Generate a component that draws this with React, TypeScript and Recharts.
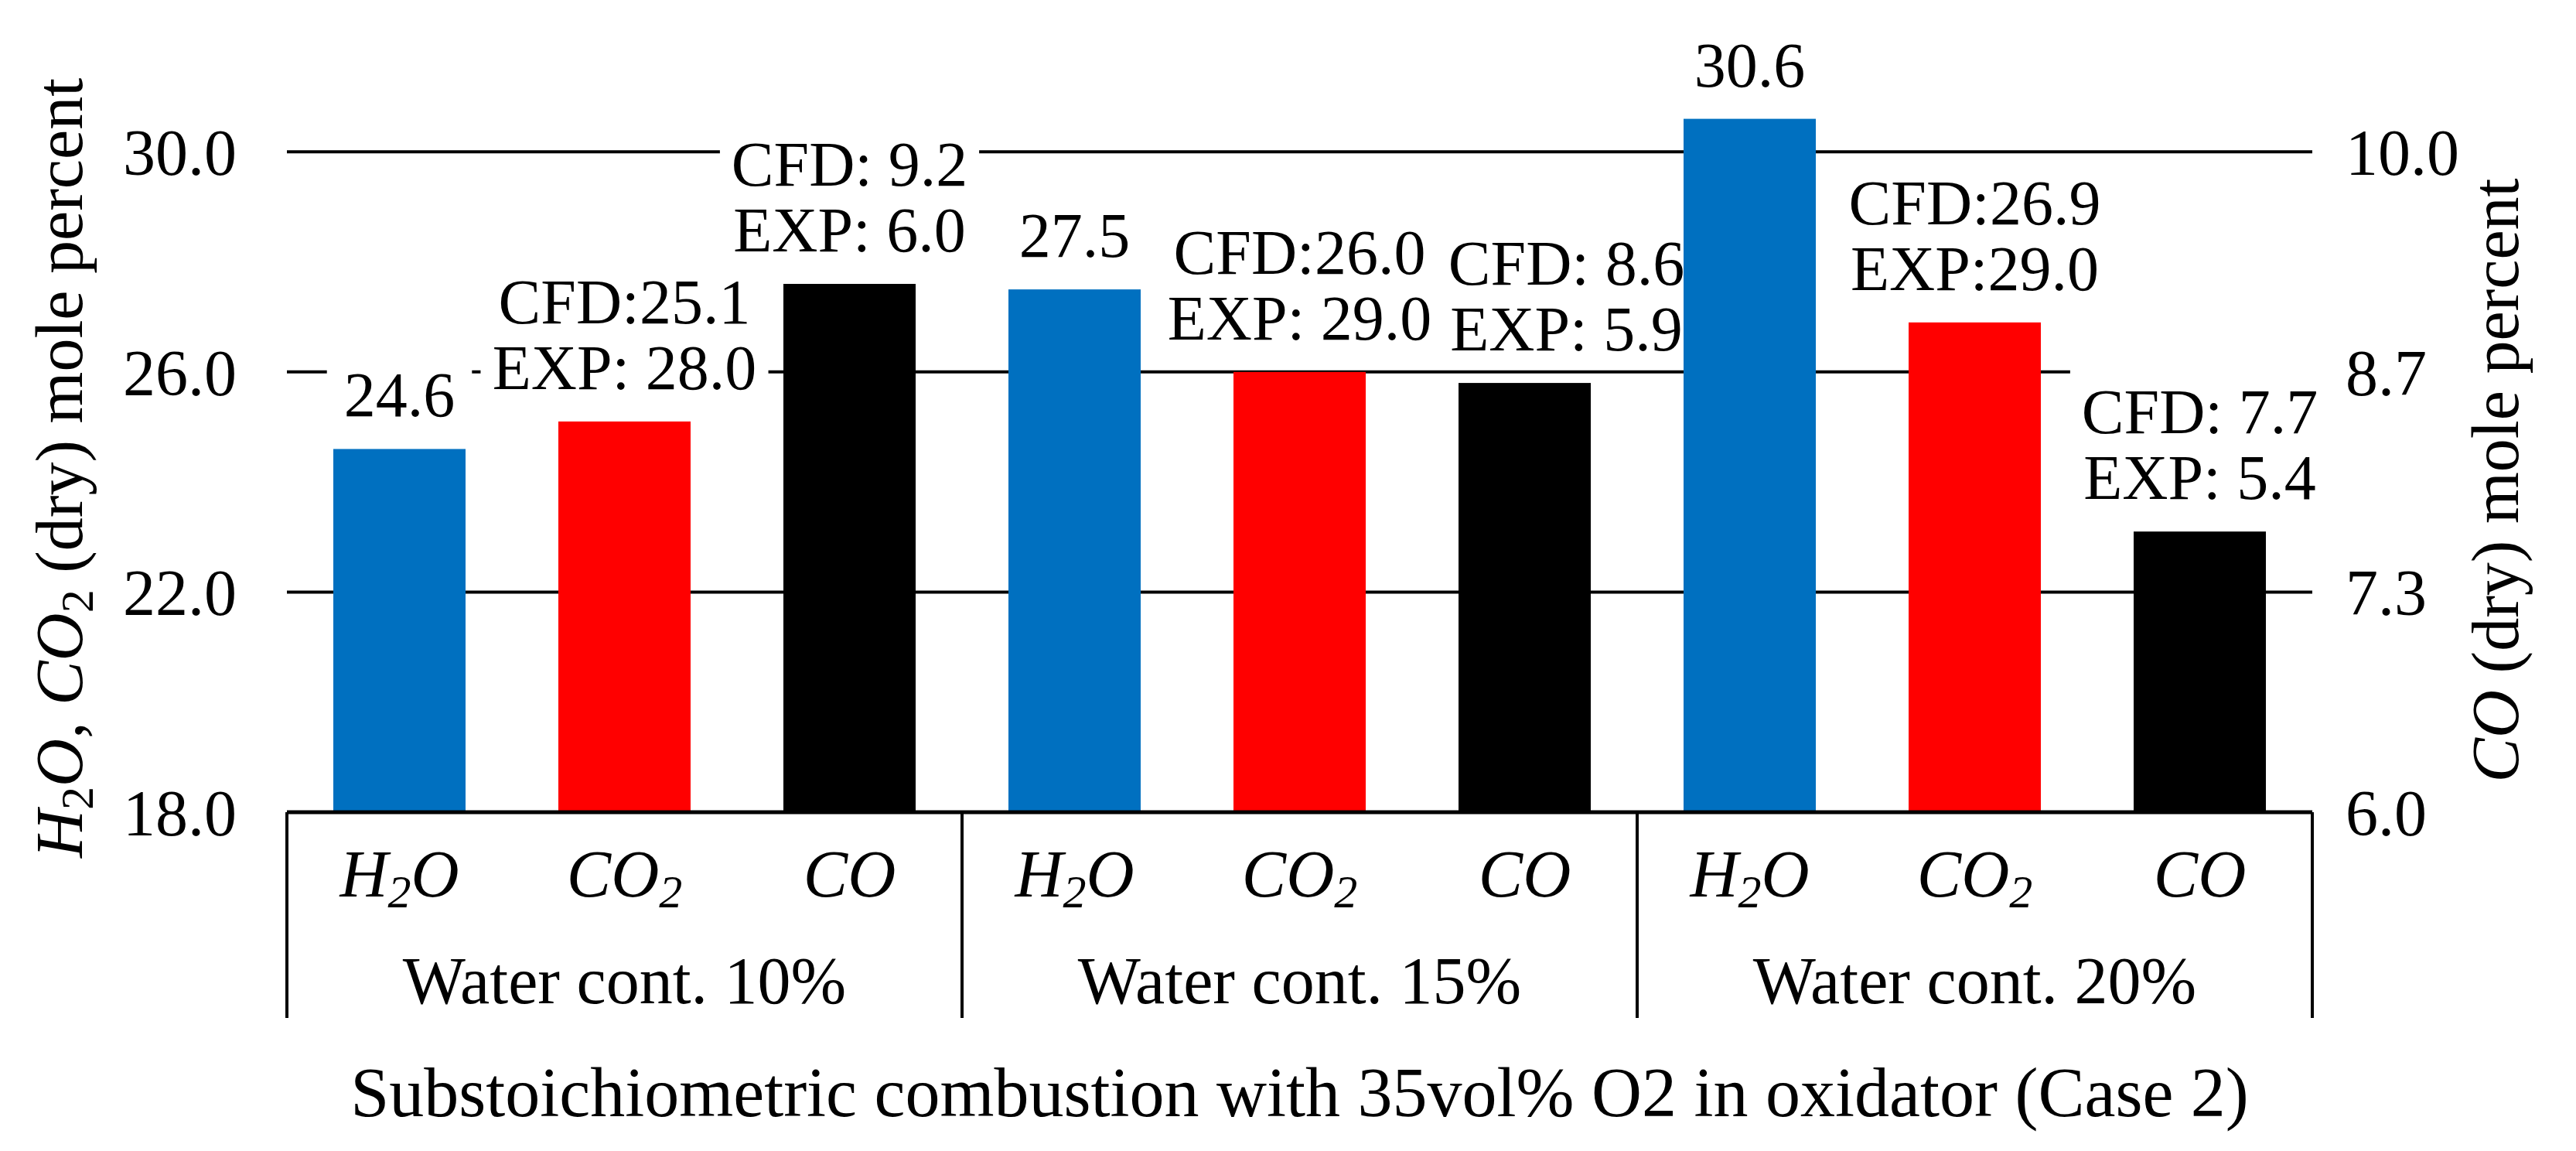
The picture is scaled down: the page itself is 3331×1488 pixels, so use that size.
import { Bar, BarChart, CartesianGrid, Label, XAxis, YAxis } from 'recharts'

// values
const groups = ['Water cont. 10%', 'Water cont. 15%', 'Water cont. 20%']
const species = ['H2O', 'CO2', 'CO']
const h2oCfd = [24.6, 27.5, 30.6]
const co2Cfd = [25.1, 26.0, 26.9]
const co2Exp = [28.0, 29.0, 29.0]
const co2ExpSep = [' ', ' ', '']
const coCfd = [9.2, 8.6, 7.7]
const coExp = [6.0, 5.9, 5.4]
const leftTicks = [18, 22, 26, 30]
const rightTicks = [6, 6 + 4 / 3, 6 + 8 / 3, 10]
const xTitle = 'Substoichiometric combustion with 35vol% O2 in oxidator (Case 2)'

const rows = groups.flatMap((group, gi) =>
  species.map((sp) => {
    if (sp === 'H2O') {
      return { key: `${gi}-${sp}`, group, species: sp, left: h2oCfd[gi], co: null, label: [h2oCfd[gi].toFixed(1)] }
    }
    if (sp === 'CO2') {
      return {
        key: `${gi}-${sp}`,
        group,
        species: sp,
        left: co2Cfd[gi],
        co: null,
        label: [`CFD:${co2Cfd[gi].toFixed(1)}`, `EXP:${co2ExpSep[gi]}${co2Exp[gi].toFixed(1)}`]
      }
    }
    return {
      key: `${gi}-${sp}`,
      group,
      species: sp,
      left: null,
      co: coCfd[gi],
      label: [`CFD: ${coCfd[gi].toFixed(1)}`, `EXP: ${coExp[gi].toFixed(1)}`]
    }
  })
)

const FONT = '"Liberation Serif", "Times New Roman", serif'
const FS = 86
const LABEL_FS = 82
const LINE_H = 85
const PLOT_LEFT = 371
const PLOT_RIGHT = 2990
const PLOT_BOTTOM = 1050
const BAND = (PLOT_RIGHT - PLOT_LEFT) / rows.length
const colors: Record<string, string> = { H2O: '#0070C0', CO2: '#FF0000', CO: '#000000' }
// the 15% CO label sits a little right of its bar
const labelNudge: Record<string, number> = { '1-CO': 54 }

function Formula({ name }: { name: string }) {
  if (name === 'H2O')
    return (
      <>
        <tspan>H</tspan>
        <tspan fontSize={60} dy={14}>2</tspan>
        <tspan dy={-14}>O</tspan>
      </>
    )
  if (name === 'CO2')
    return (
      <>
        <tspan>CO</tspan>
        <tspan fontSize={60} dy={14}>2</tspan>
      </>
    )
  return <tspan>CO</tspan>
}

function LabeledBar(props: any) {
  const { x, y, width, height, payload, series } = props
  if (!payload || payload[series] == null || !width) return null
  const lines: string[] = payload.label
  const cx = x + width / 2 + (labelNudge[payload.key] ?? 0)
  const lastBase = y - 42
  const firstBase = lastBase - (lines.length - 1) * LINE_H
  const textW = Math.max(...lines.map((l) => l.length)) * 0.45 * LABEL_FS
  const boxTop = firstBase - 0.68 * LABEL_FS - 30
  return (
    <g>
      <rect x={x} y={y} width={width} height={height} fill={colors[payload.species]} />
      <rect x={cx - textW / 2 - 20} y={boxTop} width={textW + 40} height={lastBase + 18 - boxTop} fill="#fff" />
      <text textAnchor="middle" fontSize={LABEL_FS} fill="#000">
        {lines.map((l, i) => (
          <tspan key={i} x={cx} y={firstBase + i * LINE_H}>
            {l}
          </tspan>
        ))}
      </text>
    </g>
  )
}

function CategoryTick(props: any) {
  const { x, payload } = props
  const i = rows.findIndex((r) => r.key === payload.value)
  if (i < 0) return null
  const row = rows[i]
  return (
    <g>
      <line x1={x - BAND / 2} x2={x + BAND / 2} y1={PLOT_BOTTOM} y2={PLOT_BOTTOM} stroke="#000" strokeWidth={5} />
      <text x={x} y={1159} textAnchor="middle" fontSize={FS} fontStyle="italic" fill="#000">
        <Formula name={row.species} />
      </text>
      {i % 3 === 0 && (
        <line x1={x - BAND / 2} x2={x - BAND / 2} y1={PLOT_BOTTOM} y2={1316} stroke="#000" strokeWidth={4} />
      )}
      {i === rows.length - 1 && (
        <line x1={x + BAND / 2} x2={x + BAND / 2} y1={PLOT_BOTTOM} y2={1316} stroke="#000" strokeWidth={4} />
      )}
      {i % 3 === 1 && (
        <text x={x} y={1297} textAnchor="middle" fontSize={FS} fill="#000">
          {row.group}
        </text>
      )}
      {i === 4 && (
        <text x={x} y={1443} textAnchor="middle" fontSize={90} fill="#000">
          {xTitle}
        </text>
      )}
    </g>
  )
}

const LeftTitle = () => (
  <text transform="translate(106,605) rotate(-90)" textAnchor="middle" fontSize={FS} fill="#000">
    <tspan fontStyle="italic">H</tspan>
    <tspan fontSize={60} dy={14}>2</tspan>
    <tspan dy={-14} fontStyle="italic">O</tspan>
    <tspan>, </tspan>
    <tspan fontStyle="italic">CO</tspan>
    <tspan fontSize={60} dy={14}>2</tspan>
    <tspan dy={-14}> (dry) mole percent</tspan>
  </text>
)

const RightTitle = () => (
  <text transform="translate(3256,621) rotate(-90)" textAnchor="middle" fontSize={FS} fill="#000">
    <tspan fontStyle="italic">CO</tspan>
    <tspan> (dry) mole percent</tspan>
  </text>
)

export default function App() {
  return (
    <div style={{ position: 'absolute', left: 0, top: 0, background: '#fff' }}>
      <BarChart
        width={3331}
        height={1488}
        data={rows}
        margin={{ top: 54, right: 141, bottom: 8, left: 171 }}
        style={{ fontFamily: FONT }}>
        <CartesianGrid
          xAxisId="main"
          yAxisId="left"
          vertical={false}
          horizontalValues={leftTicks}
          syncWithTicks
          stroke="#000"
          strokeWidth={4}
        />
        <XAxis
          xAxisId="main"
          dataKey="key"
          height={430}
          interval={0}
          tickLine={false}
          axisLine={false}
          tick={(p: any) => <CategoryTick {...p} />}
        />
        <XAxis xAxisId="co" dataKey="key" height={0} hide />
        <YAxis
          yAxisId="left"
          width={200}
          domain={[18, 32]}
          ticks={leftTicks}
          interval={0}
          axisLine={false}
          tickLine={false}
          tickSize={6}
          tickMargin={59}
          tickFormatter={(v: number) => v.toFixed(1)}
          tick={{ fill: '#000', fontSize: 84 }}>
          <Label content={() => <LeftTitle />} />
        </YAxis>
        <YAxis
          yAxisId="right"
          orientation="right"
          width={200}
          domain={[6, 6 + 14 / 3]}
          ticks={rightTicks}
          interval={0}
          axisLine={false}
          tickLine={false}
          tickSize={6}
          tickMargin={37}
          tickFormatter={(v: number) => v.toFixed(1)}
          tick={{ fill: '#000', fontSize: 84 }}>
          <Label content={() => <RightTitle />} />
        </YAxis>
        <Bar
          xAxisId="co"
          yAxisId="right"
          dataKey="co"
          barSize={171}
          isAnimationActive={false}
          shape={(p: any) => <LabeledBar {...p} series="co" />}
        />
        <Bar
          xAxisId="main"
          yAxisId="left"
          dataKey="left"
          barSize={171}
          isAnimationActive={false}
          shape={(p: any) => <LabeledBar {...p} series="left" />}
        />
      </BarChart>
    </div>
  )
}
